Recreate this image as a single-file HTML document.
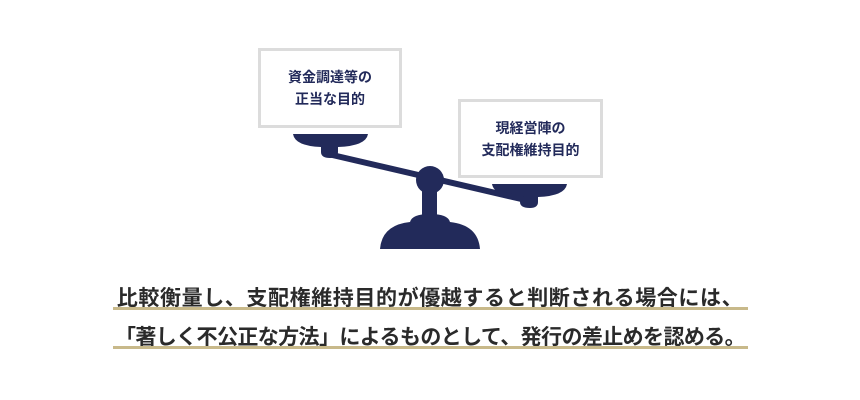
<!DOCTYPE html>
<html><head><meta charset="utf-8"><style>
body{margin:0;width:860px;height:400px;background:#fff;position:relative;overflow:hidden;font-family:"Liberation Sans","Noto Sans CJK JP",sans-serif;}
.box{position:absolute;border:3px solid #dcdcdc;background:#fff;box-sizing:border-box;display:flex;align-items:center;justify-content:center;text-align:center;color:#222a5a;font-weight:bold;font-size:14px;line-height:22px;}
.t{position:absolute;left:0;width:860px;text-align:center;font-weight:bold;color:#2a2a2a;font-size:21px;white-space:nowrap;}
.u{position:absolute;left:113px;width:635px;height:3px;background:#c8b98a;}
</style></head><body>
<svg width="860" height="400" style="position:absolute;left:0;top:0">
<g fill="#222a5a">
<path d="M293 134 H368 Q366 146 338 147 V152 Q338 158 330 158 Q321 158 321 152 V147 Q295 146 293 134Z"/>
<path d="M492 184 H567 Q565 196 538 197 V202 Q538 208 530 208 Q520 208 520 202 V197 Q494 196 492 184Z"/>
<line x1="328" y1="154" x2="530" y2="201" stroke="#222a5a" stroke-width="6"/>
<rect x="422" y="185" width="15" height="40"/>
<path d="M380 249 Q382 225 410 222 Q412 214 430 214 Q448 214 450 222 Q478 225 480 249Z"/>
<circle cx="430" cy="180" r="14"/>
</g></svg>
<div class="box" style="left:258px;top:48px;width:144px;height:80px">資金調達等の<br>正当な目的</div>
<div class="box" style="left:458px;top:99px;width:145px;height:79px">現経営陣の<br>支配権維持目的</div>
<div class="t" style="top:282px;letter-spacing:0.6px">比較衡量し、支配権維持目的が優越すると判断される場合には、</div>
<div class="u" style="top:307px"></div>
<div class="t" style="top:321px;letter-spacing:-0.6px">「著しく不公正な方法」によるものとして、発行の差止めを認める。</div>
<div class="u" style="top:346px"></div>
</body></html>
